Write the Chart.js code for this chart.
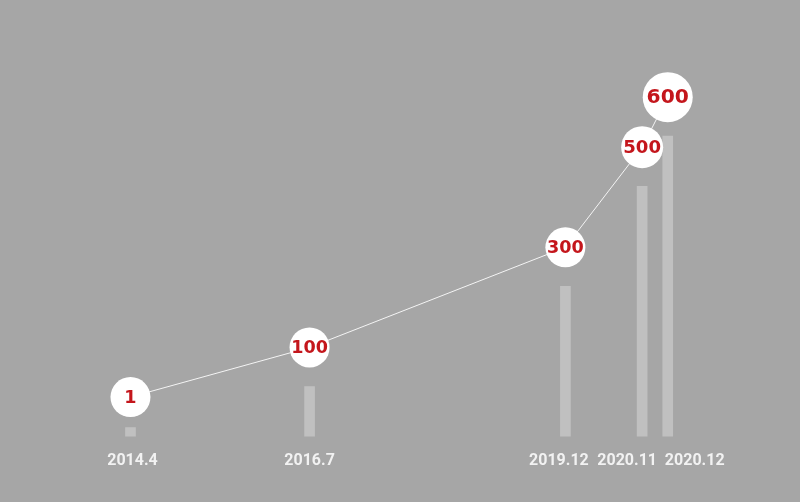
<!DOCTYPE html>
<html>
<head>
<meta charset="utf-8">
<script src="https://cdn.jsdelivr.net/npm/chart.js@4/dist/chart.umd.min.js"></script>
<style>
    html, body { margin: 0; padding: 0; background: #a6a6a6; }
    #wrap { width: 800px; height: 502px; }
</style>
</head>
<body>
<div id="wrap"><canvas id="growthChart" width="800" height="502"></canvas></div>
<script>
// Data
const periods = ['2014.4', '2016.7', '2019.12', '2020.11', '2020.12'];
const slots = [0, 7, 17, 20, 21];          // spacing of the periods along the timeline
const counts = [1, 100, 300, 500, 600];

// Styling
const pointSizes = [20, 20, 20, 21, 25];
const labelNudge = [2, 0, -6.5, -15, 27];   // px, keeps the last two labels apart
const X_MIN = -5.1, X_MAX = 26.17;
const slotPx = 800 / (X_MAX - X_MIN);

// Write the value inside every bubble
const bubbleLabels = {
    id: 'bubbleLabels',
    afterDatasetsDraw(chart) {
        const ctx = chart.ctx;
        const meta = chart.getDatasetMeta(1);
        ctx.save();
        ctx.fillStyle = '#c4161c';
        ctx.textAlign = 'center';
        ctx.textBaseline = 'middle';
        meta.data.forEach((pt, i) => {
            const size = 7 + pointSizes[i] * 0.53;
            ctx.font = 'bold ' + size + 'px "DejaVu Sans"';
            ctx.fillText(String(counts[i]), pt.x, pt.y + 1);
        });
        ctx.restore();
    }
};

const ctx = document.getElementById('growthChart').getContext('2d');
new Chart(ctx, {
    type: 'bar',
    data: {
        datasets: [
            {
                type: 'bar',
                data: slots.map((s, i) => ({ x: s, y: counts[i] })),
                backgroundColor: '#c0c0c0',
                barThickness: 10,
                minBarLength: 9,
                yAxisID: 'y',
                order: 2
            },
            {
                type: 'line',
                data: slots.map((s, i) => ({ x: s, y: counts[i] })),
                borderColor: '#f4f4f4',
                borderWidth: 1,
                tension: 0,
                fill: false,
                clip: false,
                pointRadius: pointSizes,
                pointHoverRadius: pointSizes,
                pointBackgroundColor: '#ffffff',
                pointBorderWidth: 0,
                yAxisID: 'y2',
                order: 1
            }
        ]
    },
    options: {
        responsive: false,
        animation: false,
        layout: { autoPadding: false, padding: { left: 0, right: 0, top: 0, bottom: 17 } },
        plugins: {
            legend: { display: false },
            tooltip: { enabled: false }
        },
        scales: {
            x: {
                type: 'linear',
                offset: false,
                min: X_MIN,
                max: X_MAX,
                grid: { display: false, drawTicks: false },
                border: { display: false },
                afterBuildTicks: scale => {
                    scale.ticks = slots.map((v, i) => ({ value: v + labelNudge[i] / slotPx }));
                },
                ticks: {
                    padding: 14.6,
                    color: '#f2f2f2',
                    font: { family: 'Roboto', size: 16, weight: 'bold' },
                    callback: (value, index) => periods[index]
                }
            },
            y: {
                display: false,
                min: 0,
                max: 872
            },
            y2: {
                display: false,
                min: -78,
                max: 794
            }
        }
    },
    plugins: [bubbleLabels]
});
</script>
</body>
</html>
